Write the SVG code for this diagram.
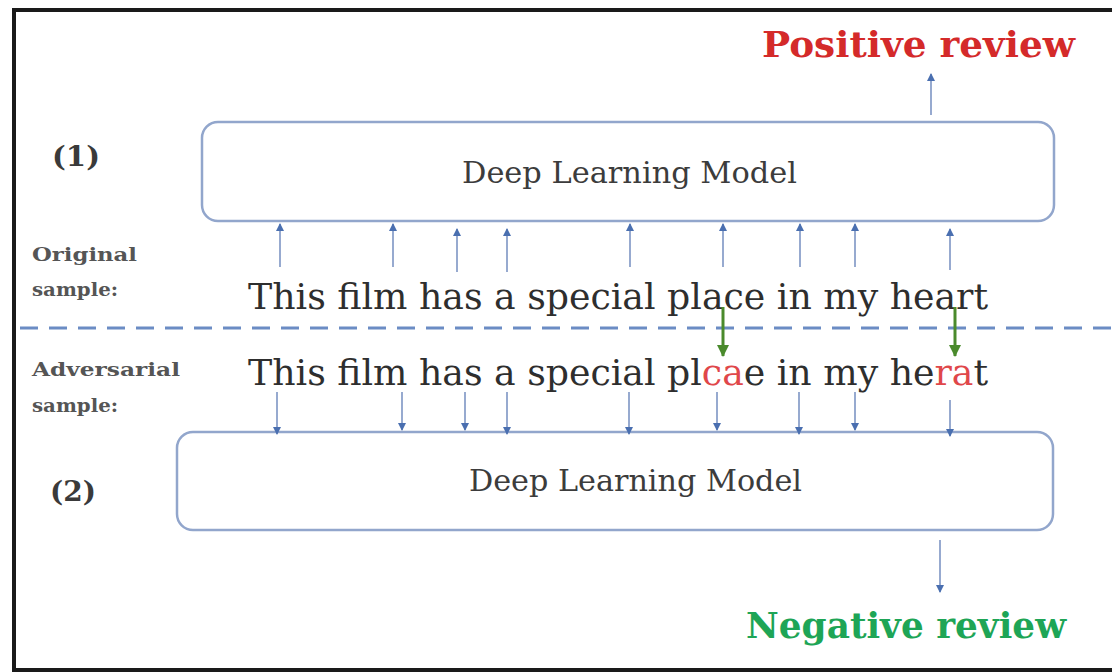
<svg xmlns="http://www.w3.org/2000/svg" width="1112" height="672" viewBox="0 0 1112 672">
  <style>
    .frame { fill: none; stroke: #1a1a1a; stroke-width: 4; }
    .box { fill: #ffffff; stroke: #92a6cc; stroke-width: 2.5; }
    .model { font-family: "DejaVu Serif", "Liberation Serif", serif; font-size: 30px; fill: #3c3c3c; }
    .tag { font-family: "DejaVu Serif", "Liberation Serif", serif; font-size: 28px; font-weight: bold; fill: #3a3a3a; }
    .side { font-family: "DejaVu Serif", "Liberation Serif", serif; font-size: 19px; font-weight: bold; fill: #555555; }
    .sent { font-family: "DejaVu Serif", "Liberation Serif", serif; font-size: 35px; fill: #2e2e2e; }
    .swap { fill: #e0474a; }
    .pos { font-family: "DejaVu Serif", "Liberation Serif", serif; font-size: 35px; font-weight: bold; fill: #d42a2a; }
    .neg { font-family: "DejaVu Serif", "Liberation Serif", serif; font-size: 35px; font-weight: bold; fill: #1ea556; }
    .flow { stroke: #7d95c4; stroke-width: 1.6; fill: none; }
    .edit { stroke: #4a8a2c; stroke-width: 3; fill: none; }
    .split { stroke: #6b8cc4; stroke-width: 3; stroke-dasharray: 18 11; fill: none; }
  </style>
  <defs>
    <marker id="tip" markerWidth="8" markerHeight="8" refX="7" refY="4" orient="auto" markerUnits="userSpaceOnUse">
      <path d="M0,0 L8,4 L0,8 Z" fill="#4a6fb0"/>
    </marker>
    <marker id="tipGreen" markerWidth="12" markerHeight="12" refX="11" refY="6" orient="auto" markerUnits="userSpaceOnUse">
      <path d="M0,0 L12,6 L0,12 Z" fill="#4a8a2c"/>
    </marker>
  </defs>

  <rect x="0" y="0" width="1112" height="672" fill="#ffffff"/>
  <path class="frame" d="M1112,10 H14 V670 H1112"/>

  <!-- upper model -->
  <g id="model1">
    <rect class="box" x="202" y="122" width="852" height="99" rx="16"/>
    <text class="model" x="462" y="183" textLength="335" lengthAdjust="spacingAndGlyphs">Deep Learning Model</text>
  </g>
  <g id="label1"><text class="tag" x="52" y="166" textLength="48" lengthAdjust="spacingAndGlyphs">(1)</text></g>

  <!-- lower model -->
  <g id="model2">
    <rect class="box" x="177" y="432" width="876" height="98" rx="16"/>
    <text class="model" x="469" y="491" textLength="333" lengthAdjust="spacingAndGlyphs">Deep Learning Model</text>
  </g>
  <g id="label2"><text class="tag" x="50" y="501" textLength="46" lengthAdjust="spacingAndGlyphs">(2)</text></g>

  <g id="positive"><text class="pos" x="762" y="57" textLength="313" lengthAdjust="spacingAndGlyphs">Positive  review</text></g>
  <g id="negative"><text class="neg" x="746" y="638" textLength="320" lengthAdjust="spacingAndGlyphs">Negative review</text></g>

  <g id="original">
    <text class="side" x="32" y="261" textLength="105" lengthAdjust="spacingAndGlyphs">Original</text>
    <text class="side" x="32" y="296" textLength="86" lengthAdjust="spacingAndGlyphs">sample:</text>
    <text class="sent" x="248" y="309" textLength="740" lengthAdjust="spacingAndGlyphs">This film has a special place in my heart</text>
  </g>

  <g id="adversarial">
    <text class="side" x="32" y="376" textLength="148" lengthAdjust="spacingAndGlyphs">Adversarial</text>
    <text class="side" x="32" y="412" textLength="86" lengthAdjust="spacingAndGlyphs">sample:</text>
    <text class="sent" x="248" y="385" textLength="740" lengthAdjust="spacingAndGlyphs">This film has a special pl<tspan class="swap">ca</tspan>e in my he<tspan class="swap">ra</tspan>t</text>
  </g>

  <line class="split" x1="20" y1="328" x2="1112" y2="328"/>

  <g id="connectors">
    <!-- words into upper model -->
    <line class="flow" x1="280" y1="267" x2="280" y2="224" marker-end="url(#tip)"/>
    <line class="flow" x1="393" y1="267" x2="393" y2="224" marker-end="url(#tip)"/>
    <line class="flow" x1="457" y1="272" x2="457" y2="229" marker-end="url(#tip)"/>
    <line class="flow" x1="507" y1="272" x2="507" y2="229" marker-end="url(#tip)"/>
    <line class="flow" x1="630" y1="267" x2="630" y2="224" marker-end="url(#tip)"/>
    <line class="flow" x1="723" y1="267" x2="723" y2="224" marker-end="url(#tip)"/>
    <line class="flow" x1="800" y1="267" x2="800" y2="224" marker-end="url(#tip)"/>
    <line class="flow" x1="855" y1="267" x2="855" y2="224" marker-end="url(#tip)"/>
    <line class="flow" x1="950" y1="270" x2="950" y2="229" marker-end="url(#tip)"/>
    <!-- upper output -->
    <line class="flow" x1="931" y1="115" x2="931" y2="74" marker-end="url(#tip)"/>

    <!-- words into lower model -->
    <line class="flow" x1="277" y1="392" x2="277" y2="434" marker-end="url(#tip)"/>
    <line class="flow" x1="402" y1="392" x2="402" y2="430" marker-end="url(#tip)"/>
    <line class="flow" x1="465" y1="392" x2="465" y2="430" marker-end="url(#tip)"/>
    <line class="flow" x1="507" y1="392" x2="507" y2="434" marker-end="url(#tip)"/>
    <line class="flow" x1="629" y1="392" x2="629" y2="434" marker-end="url(#tip)"/>
    <line class="flow" x1="717" y1="392" x2="717" y2="430" marker-end="url(#tip)"/>
    <line class="flow" x1="799" y1="392" x2="799" y2="434" marker-end="url(#tip)"/>
    <line class="flow" x1="855" y1="392" x2="855" y2="430" marker-end="url(#tip)"/>
    <line class="flow" x1="950" y1="400" x2="950" y2="436" marker-end="url(#tip)"/>
    <!-- lower output -->
    <line class="flow" x1="940" y1="540" x2="940" y2="592" marker-end="url(#tip)"/>

    <!-- character edits -->
    <line class="edit" x1="723" y1="307" x2="723" y2="356" marker-end="url(#tipGreen)"/>
    <line class="edit" x1="955" y1="307" x2="955" y2="356" marker-end="url(#tipGreen)"/>
  </g>
</svg>
